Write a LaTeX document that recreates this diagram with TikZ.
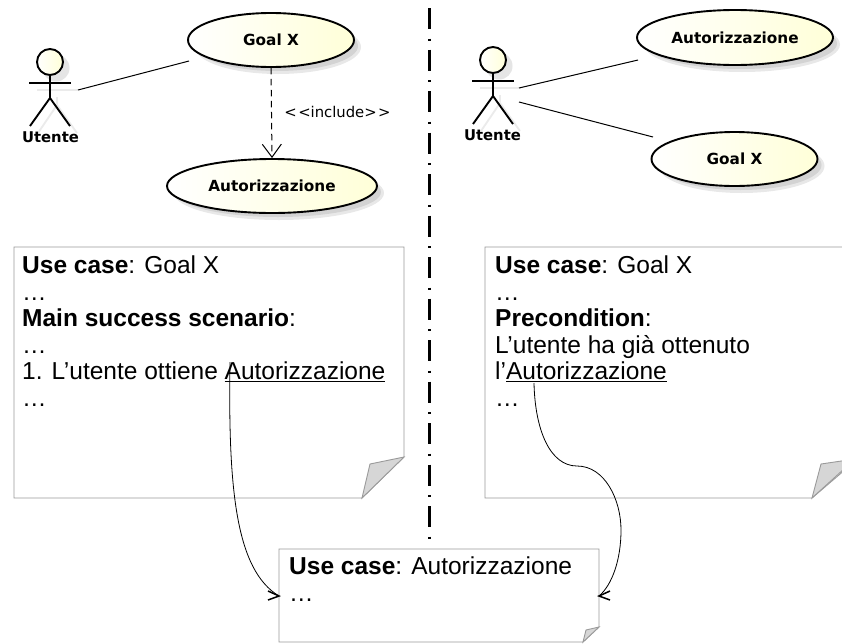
\documentclass[tikz,border=0pt]{standalone}
\usepackage{fontspec}
\setmainfont{Liberation Sans}
\newfontfamily\umlfont{DejaVu Sans}
\usetikzlibrary{shapes.geometric,arrows.meta}
\definecolor{notegray}{HTML}{9A9A9A}
\definecolor{foldgray}{HTML}{D6D6D6}
\definecolor{ucyellow}{HTML}{FFFFD8}
\tikzset{
  x=1pt,y=-1pt,
  ucase/.style={ellipse,draw=black,line width=1.9pt,left color=white,right color=ucyellow,inner sep=0pt,font=\umlfont\fontsize{15.3}{17}\selectfont\bfseries},
  ucshadow/.style={ellipse,fill=black,fill opacity=0.09,draw=none,inner sep=0pt},
  limb/.style={line width=1.9pt,line cap=butt},
  limbshadow/.style={line width=1.8pt,draw=black!8},
  actorlabel/.style={font=\umlfont\fontsize{14.8}{17}\selectfont\bfseries,inner sep=0pt},
  assoc/.style={line width=1pt,draw=black},
  notebox/.style={draw=notegray,line width=0.9pt,fill=white},
  notefold/.style={draw=notegray,line width=0.9pt,fill=foldgray},
  notetext/.style={anchor=north west,inner sep=0pt,align=left,font=\fontsize{24.5}{26.6}\selectfont},
  linkcurve/.style={line width=0.8pt,draw=black},
  barb/.style={line width=1.5pt,draw=black},
  divider/.style={line width=2.8pt,draw=black,dash pattern=on 21pt off 9.5pt on 2pt off 9pt}
}
\newcommand{\usecasenode}[6]{%
  \node[ucshadow,minimum width=#4*2pt,minimum height=#5*2pt] at (#2+7,#3+7) {};
  \node[ucshadow,minimum width=#4*2pt-4pt,minimum height=#5*2pt-4pt] at (#2+6,#3+6) {};
  \node[ucase,minimum width=#4*2pt,minimum height=#5*2pt] (#1) at (#2,#3) {#6};
}
\newcommand{\actorfig}[3]{%
  \begin{scope}[shift={(#2,#3)}]
    \fill[black!10] (6,-15) circle[radius=13.5];
    \draw[limbshadow] (-13,7) -- (28,7);
    \draw[limbshadow] (7,14) -- (7,22) (7,22) -- (-12,50) (7,22) -- (27,50);
    \node[circle,draw=black,line width=1.9pt,left color=white,right color=ucyellow,minimum size=26pt,inner sep=0pt] (#1head) at (0,-21) {};
    \draw[limb] (#1head.south) -- (0,15);
    \draw[limb] (-21,0) -- (21,0);
    \draw[limb] (0,15) -- (-20,43) (0,15) -- (20,43);
  \end{scope}
}
\begin{document}
\begin{tikzpicture}
\clip (0,0) rectangle (842,643);
\fill[white] (0,0) rectangle (842,643);

% divider
\coordinate (divtop) at (429.5,8);
\coordinate (divbot) at (429.5,540);
\draw[divider] (divtop) -- (divbot);

% left diagram
\actorfig{la}{50}{83}
\node[actorlabel] (lalabel) at (50.5,137) {Utente};
\usecasenode{lgoal}{271}{40}{83}{27}{Goal X}
\usecasenode{laut}{272}{186}{105}{27}{Autorizzazione}
\coordinate (laend) at (78,90);
\coordinate (lgend) at (189,61);
\draw[assoc] (laend) -- (lgend);
\draw[line width=1pt,dash pattern=on 6.5pt off 4.5pt,-{Straight Barb[length=13pt,width=19pt,line width=1pt]}] (lgoal.south) -- (laut.north);
\node[font=\umlfont\fontsize{14.8}{17}\selectfont,inner sep=0pt] (incl) at (337.5,112) {<\kern1.5pt<include>\kern1.5pt>};

% right diagram
\actorfig{ra}{493}{81}
\node[actorlabel] (ralabel) at (492.5,135) {Utente};
\usecasenode{raut}{735}{37.5}{98}{27.5}{Autorizzazione}
\usecasenode{rgoal}{734.5}{159}{83}{27}{Goal X}
\coordinate (rae1) at (519,88);
\coordinate (rae2) at (519,102);
\coordinate (rau) at (638,60);
\coordinate (rgo) at (653,137);
\draw[assoc] (rae1) -- (rau);
\draw[assoc] (rae2) -- (rgo);

% notes
\draw[notebox] (14,247) -- (404,247) -- (404,457) -- (362,498) -- (14,498) -- cycle;
\draw[notefold] (404,457) -- (370,464) -- (362,498) -- cycle;
\node[notetext] (lnote) at (22,255.5) {\textbf{Use case}: Goal X\\…\\\textbf{Main success scenario}:\\…\\1. L’utente ottiene \underline{Autorizzazione}\\…};

\draw[notebox] (485,247) -- (860,247) -- (860,457) -- (812,498) -- (485,498) -- cycle;
\draw[notefold] (855,459) -- (821,464) -- (812,498) -- cycle;
\node[notetext] (rnote) at (495,255.5) {\textbf{Use case}: Goal X\\…\\\textbf{Precondition}:\\L’utente ha già ottenuto\\l’\underline{Autorizzazione}\\…};

\draw[notebox] (279,549) -- (599,549) -- (599,627) -- (583,642) -- (279,642) -- cycle;
\draw[notefold] (599,627) -- (586,630) -- (583,642) -- cycle;
\node[notetext] (bnote) at (289,557) {\textbf{Use case}: Autorizzazione\\…};

% link curves
\coordinate (lstart) at (230,362);
\coordinate (ltip) at (279,596);
\coordinate (rstart) at (534,383);
\coordinate (rmid) at (577,466);
\coordinate (rtip) at (599,596);
\draw[linkcurve] (lstart) .. controls (228,490) and (236,570) .. (ltip);
\draw[linkcurve] (rstart) .. controls (535,430) and (550,466) .. (rmid)
   .. controls (605,466) and (621,500) .. (621,530)
   .. controls (621,560) and (612,585) .. (rtip);
\draw[barb] (268,591) -- (ltip) -- (268,600);
\draw[barb] (610,591) -- (rtip) -- (610,600);
\end{tikzpicture}
\end{document}
